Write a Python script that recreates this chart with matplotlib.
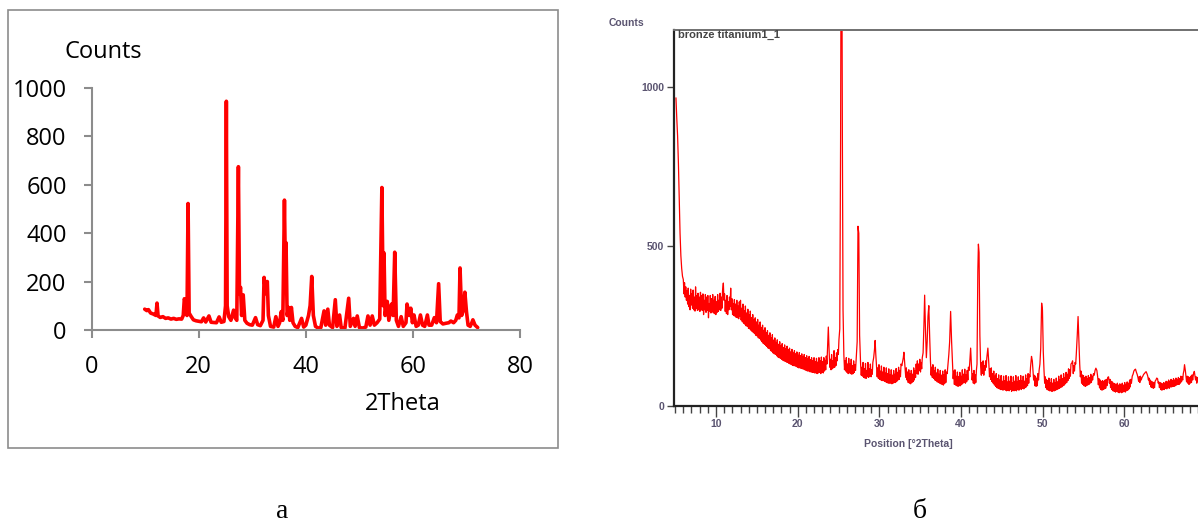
import matplotlib
matplotlib.use("Agg")
import matplotlib.pyplot as plt
from matplotlib.patches import Rectangle
from matplotlib.ticker import MultipleLocator

# ---------------- data: panel "а" ----------------
pattern_a = [
    (9.9, 86), (10.3, 80), (10.6, 84), (11.0, 70), (11.5, 66), (12.0, 60), (12.2, 111), (12.4, 58),
    (12.8, 52), (13.3, 55), (13.8, 48), (14.3, 50), (14.8, 45), (15.3, 48), (15.8, 44), (16.3, 46),
    (16.8, 45), (17.1, 60), (17.3, 129), (17.6, 110), (17.8, 60), (18.0, 522), (18.2, 70), (18.6, 55),
    (19.0, 42), (19.5, 38), (20.0, 36), (20.5, 34), (20.9, 50), (21.3, 33), (21.9, 58), (22.3, 32),
    (22.8, 31), (23.3, 30), (23.8, 54), (24.2, 32), (24.7, 35), (25.0, 100), (25.15, 944), (25.3, 100),
    (25.6, 55), (26.0, 40), (26.5, 82), (26.8, 50), (27.1, 40), (27.4, 674), (27.6, 150), (27.8, 176),
    (28.0, 60), (28.3, 145), (28.6, 40), (29.0, 28), (29.5, 22), (30.0, 20), (30.6, 51), (31.0, 22),
    (31.5, 18), (32.0, 40), (32.2, 217), (32.5, 150), (32.8, 200), (33.0, 60), (33.4, 15), (34.0, 12),
    (34.4, 55), (34.8, 15), (35.1, 30), (35.4, 76), (35.7, 40), (36.0, 536), (36.2, 200), (36.3, 360),
    (36.5, 60), (36.8, 93), (37.0, 40), (37.3, 93), (37.6, 30), (38.0, 15), (38.5, 10), (39.2, 48),
    (39.6, 12), (40.0, 20), (40.5, 60), (40.8, 101), (41.1, 221), (41.4, 60), (41.8, 15), (42.3, 8),
    (42.8, 10), (43.4, 79), (43.7, 20), (44.1, 86), (44.4, 20), (45.0, 10), (45.5, 125), (45.8, 15),
    (46.3, 62), (46.6, 10), (47.3, 8), (48.0, 131), (48.3, 15), (48.9, 48), (49.2, 15), (49.6, 58),
    (50.0, 10), (50.6, 8), (51.2, 12), (51.6, 58), (52.0, 20), (52.4, 58), (52.8, 20), (53.3, 30),
    (53.8, 45), (54.2, 588), (54.45, 100), (54.6, 318), (54.8, 60), (55.2, 118), (55.5, 40), (56.0, 107),
    (56.3, 60), (56.6, 321), (56.9, 40), (57.3, 15), (57.8, 55), (58.2, 15), (58.7, 30), (58.9, 107),
    (59.3, 60), (59.6, 90), (59.9, 30), (60.2, 62), (60.6, 15), (61.0, 20), (61.4, 62), (61.8, 20),
    (62.2, 15), (62.7, 62), (63.0, 20), (63.5, 20), (64.0, 51), (64.4, 30), (64.8, 191), (65.1, 35),
    (65.6, 25), (66.2, 28), (66.7, 30), (67.1, 37), (67.6, 30), (68.0, 40), (68.3, 62), (68.6, 50),
    (68.8, 256), (69.1, 60), (69.4, 80), (69.7, 156), (70.0, 76), (70.3, 20), (70.7, 15), (71.0, 30),
    (71.2, 42), (71.6, 20), (72.1, 10),
]
xticks_a = [0, 20, 40, 60, 80]
yticks_a = [0, 200, 400, 600, 800, 1000]

# ---------------- data: panel "б" ----------------
pattern_b = [
    (5.10, 964), (5.20, 900), (5.30, 845), (5.40, 760), (5.50, 650), (5.60, 540), (5.70, 470), (5.80, 430),
    (5.90, 405), (6.00, 395), (6.08, 350), (6.15, 385), (6.23, 340), (6.30, 372), (6.38, 330), (6.45, 360),
    (6.53, 318), (6.60, 368), (6.68, 310), (6.75, 345), (6.83, 300), (6.90, 365), (6.98, 315), (7.05, 350),
    (7.13, 305), (7.20, 362), (7.28, 300), (7.35, 340), (7.43, 296), (7.50, 372), (7.58, 305), (7.65, 345),
    (7.73, 298), (7.80, 352), (7.88, 300), (7.95, 340), (8.03, 295), (8.10, 355), (8.18, 300), (8.25, 345),
    (8.33, 298), (8.40, 350), (8.48, 285), (8.55, 330), (8.63, 300), (8.70, 348), (8.78, 292), (8.85, 340),
    (8.93, 298), (9.00, 345), (9.08, 275), (9.15, 320), (9.23, 296), (9.30, 345), (9.38, 290), (9.45, 335),
    (9.53, 294), (9.60, 348), (9.68, 290), (9.75, 330), (9.83, 288), (9.90, 342), (9.98, 285), (10.05, 325),
    (10.13, 292), (10.20, 348), (10.28, 295), (10.35, 330), (10.43, 300), (10.50, 352), (10.58, 298), (10.65, 340),
    (10.73, 305), (10.80, 360), (10.90, 384), (10.98, 330), (11.05, 350), (11.13, 295), (11.20, 330), (11.28, 288),
    (11.35, 345), (11.43, 285), (11.50, 325), (11.58, 300), (11.65, 340), (11.72, 310), (11.80, 368), (11.88, 300),
    (11.95, 335), (12.03, 285), (12.10, 320), (12.18, 282), (12.25, 332), (12.33, 280), (12.40, 318), (12.48, 276),
    (12.55, 330), (12.63, 275), (12.70, 312), (12.78, 272), (12.85, 325), (12.93, 280), (13.00, 330), (13.08, 268),
    (13.15, 305), (13.23, 262), (13.30, 318), (13.38, 258), (13.45, 298), (13.53, 255), (13.60, 312), (13.68, 250),
    (13.75, 290), (13.83, 248), (13.90, 302), (13.98, 242), (14.05, 285), (14.13, 240), (14.20, 296), (14.28, 236),
    (14.35, 275), (14.43, 232), (14.50, 285), (14.58, 228), (14.65, 268), (14.73, 225), (14.80, 275), (14.88, 220),
    (14.95, 262), (15.03, 218), (15.10, 270), (15.18, 212), (15.25, 252), (15.33, 210), (15.40, 262), (15.48, 205),
    (15.55, 245), (15.63, 200), (15.70, 252), (15.78, 195), (15.85, 236), (15.93, 192), (16.00, 244), (16.08, 188),
    (16.15, 228), (16.23, 185), (16.30, 235), (16.38, 180), (16.45, 220), (16.53, 178), (16.60, 228), (16.68, 172),
    (16.75, 212), (16.83, 170), (16.90, 222), (16.98, 165), (17.05, 205), (17.13, 162), (17.20, 212), (17.28, 160),
    (17.35, 198), (17.43, 156), (17.50, 206), (17.58, 152), (17.65, 192), (17.73, 150), (17.80, 200), (17.88, 148),
    (17.95, 188), (18.03, 145), (18.10, 194), (18.18, 142), (18.25, 182), (18.33, 140), (18.40, 190), (18.48, 138),
    (18.55, 178), (18.63, 136), (18.70, 186), (18.78, 135), (18.85, 175), (18.93, 132), (19.00, 180), (19.08, 130),
    (19.15, 168), (19.23, 128), (19.30, 176), (19.38, 126), (19.45, 165), (19.53, 125), (19.60, 172), (19.68, 124),
    (19.75, 162), (19.83, 122), (19.90, 168), (19.98, 120), (20.05, 158), (20.13, 118), (20.20, 166), (20.28, 118),
    (20.35, 156), (20.43, 116), (20.50, 162), (20.58, 115), (20.65, 152), (20.73, 114), (20.80, 160), (20.88, 112),
    (20.95, 150), (21.03, 110), (21.10, 156), (21.18, 108), (21.25, 146), (21.33, 108), (21.40, 154), (21.48, 106),
    (21.55, 144), (21.63, 105), (21.70, 150), (21.78, 104), (21.85, 140), (21.93, 104), (22.00, 150), (22.08, 102),
    (22.15, 138), (22.23, 102), (22.30, 148), (22.38, 100), (22.45, 136), (22.53, 102), (22.60, 150), (22.68, 104),
    (22.75, 140), (22.83, 100), (22.90, 152), (22.98, 104), (23.05, 138), (23.13, 102), (23.20, 150), (23.28, 108),
    (23.35, 142), (23.43, 112), (23.50, 155), (23.58, 130), (23.65, 175), (23.75, 246), (23.85, 170), (23.93, 120),
    (24.00, 145), (24.08, 112), (24.15, 160), (24.23, 115), (24.30, 140), (24.38, 118), (24.45, 172), (24.53, 120),
    (24.60, 150), (24.68, 125), (24.75, 165), (24.83, 140), (24.90, 175), (24.98, 160), (25.05, 206), (25.15, 240),
    (25.25, 820), (25.32, 1500), (25.40, 1500), (25.47, 840), (25.55, 300), (25.65, 160), (25.73, 112), (25.80, 140),
    (25.88, 108), (25.95, 150), (26.03, 104), (26.10, 130), (26.18, 100), (26.25, 148), (26.33, 102), (26.40, 130),
    (26.48, 100), (26.55, 145), (26.63, 98), (26.70, 125), (26.78, 100), (26.85, 140), (26.93, 104), (27.00, 128),
    (27.08, 110), (27.15, 140), (27.28, 200), (27.38, 562), (27.48, 540), (27.58, 220), (27.70, 130), (27.78, 95),
    (27.85, 120), (27.93, 92), (28.00, 135), (28.08, 88), (28.15, 115), (28.23, 86), (28.30, 132), (28.38, 85),
    (28.45, 110), (28.53, 90), (28.60, 135), (28.68, 88), (28.75, 115), (28.83, 92), (28.90, 130), (28.98, 90),
    (29.05, 112), (29.13, 98), (29.20, 135), (29.30, 150), (29.40, 175), (29.48, 204), (29.56, 160), (29.65, 120),
    (29.73, 90), (29.80, 118), (29.88, 85), (29.95, 128), (30.03, 82), (30.10, 108), (30.18, 80), (30.25, 124),
    (30.33, 78), (30.40, 105), (30.48, 78), (30.55, 120), (30.63, 76), (30.70, 102), (30.78, 74), (30.85, 118),
    (30.93, 72), (31.00, 100), (31.08, 70), (31.15, 115), (31.23, 70), (31.30, 96), (31.38, 70), (31.45, 112),
    (31.53, 68), (31.60, 95), (31.68, 70), (31.75, 110), (31.83, 72), (31.90, 98), (31.98, 72), (32.05, 116),
    (32.13, 76), (32.20, 104), (32.28, 80), (32.35, 120), (32.43, 82), (32.50, 110), (32.58, 90), (32.65, 130),
    (32.75, 125), (32.85, 140), (32.93, 150), (33.00, 167), (33.08, 140), (33.15, 115), (33.23, 88), (33.30, 118),
    (33.38, 80), (33.45, 105), (33.53, 72), (33.60, 112), (33.68, 70), (33.75, 100), (33.83, 68), (33.90, 110),
    (33.98, 72), (34.05, 98), (34.13, 75), (34.20, 118), (34.28, 80), (34.35, 110), (34.43, 88), (34.50, 130),
    (34.58, 100), (34.65, 140), (34.73, 98), (34.80, 130), (34.88, 110), (34.95, 145), (35.03, 105), (35.10, 135),
    (35.18, 115), (35.25, 150), (35.35, 165), (35.45, 250), (35.54, 346), (35.64, 240), (35.75, 150), (35.85, 200),
    (35.95, 280), (36.05, 313), (36.15, 220), (36.25, 140), (36.33, 95), (36.40, 120), (36.48, 88), (36.55, 128),
    (36.63, 85), (36.70, 110), (36.78, 80), (36.85, 120), (36.93, 78), (37.00, 102), (37.08, 74), (37.15, 114),
    (37.23, 72), (37.30, 98), (37.38, 70), (37.45, 110), (37.53, 68), (37.60, 95), (37.68, 66), (37.75, 108),
    (37.83, 64), (37.90, 96), (37.98, 68), (38.05, 112), (38.13, 72), (38.20, 105), (38.30, 100), (38.40, 130),
    (38.50, 160), (38.60, 200), (38.72, 295), (38.84, 200), (38.95, 130), (39.03, 84), (39.10, 108), (39.18, 66),
    (39.25, 112), (39.33, 64), (39.40, 92), (39.48, 62), (39.55, 105), (39.63, 60), (39.70, 90), (39.78, 62),
    (39.85, 104), (39.93, 62), (40.00, 92), (40.08, 66), (40.15, 112), (40.23, 70), (40.30, 98), (40.38, 72),
    (40.45, 114), (40.53, 70), (40.60, 96), (40.68, 74), (40.75, 110), (40.83, 80), (40.90, 120), (40.98, 110),
    (41.05, 130), (41.17, 180), (41.28, 120), (41.35, 80), (41.43, 100), (41.50, 70), (41.58, 110), (41.65, 68),
    (41.73, 96), (41.80, 72), (41.88, 112), (41.95, 130), (42.05, 420), (42.12, 506), (42.20, 480), (42.30, 220),
    (42.40, 120), (42.48, 95), (42.55, 135), (42.63, 100), (42.70, 140), (42.78, 95), (42.85, 125), (42.93, 110),
    (43.00, 140), (43.08, 120), (43.15, 150), (43.28, 180), (43.40, 130), (43.48, 90), (43.55, 115), (43.63, 82),
    (43.70, 118), (43.78, 75), (43.85, 100), (43.93, 70), (44.00, 108), (44.08, 64), (44.15, 92), (44.23, 60),
    (44.30, 100), (44.38, 56), (44.45, 84), (44.53, 54), (44.60, 96), (44.68, 52), (44.75, 80), (44.83, 50),
    (44.90, 94), (44.98, 50), (45.05, 76), (45.13, 48), (45.20, 92), (45.28, 50), (45.35, 78), (45.43, 48),
    (45.50, 94), (45.58, 46), (45.65, 74), (45.73, 48), (45.80, 90), (45.88, 46), (45.95, 76), (46.03, 50),
    (46.10, 92), (46.18, 44), (46.25, 72), (46.33, 48), (46.40, 90), (46.48, 46), (46.55, 76), (46.63, 48),
    (46.70, 94), (46.78, 46), (46.85, 74), (46.93, 50), (47.00, 90), (47.08, 48), (47.15, 78), (47.23, 52),
    (47.30, 94), (47.38, 50), (47.45, 78), (47.53, 54), (47.60, 92), (47.68, 52), (47.75, 76), (47.83, 56),
    (47.90, 96), (47.98, 58), (48.05, 84), (48.13, 62), (48.20, 100), (48.28, 70), (48.35, 96), (48.43, 90),
    (48.50, 120), (48.62, 154), (48.72, 140), (48.80, 110), (48.88, 80), (48.95, 95), (49.03, 62), (49.10, 92),
    (49.18, 60), (49.25, 86), (49.33, 62), (49.40, 100), (49.48, 80), (49.55, 110), (49.65, 130), (49.75, 180),
    (49.86, 321), (49.96, 300), (50.06, 170), (50.15, 110), (50.23, 70), (50.30, 90), (50.38, 56), (50.45, 82),
    (50.53, 50), (50.60, 78), (50.68, 48), (50.75, 86), (50.83, 46), (50.90, 72), (50.98, 46), (51.05, 84),
    (51.13, 44), (51.20, 70), (51.28, 46), (51.35, 82), (51.43, 46), (51.50, 72), (51.58, 48), (51.65, 86),
    (51.73, 50), (51.80, 74), (51.88, 52), (51.95, 92), (52.03, 54), (52.10, 80), (52.18, 56), (52.25, 96),
    (52.33, 58), (52.40, 84), (52.48, 62), (52.55, 100), (52.63, 64), (52.70, 88), (52.78, 68), (52.85, 104),
    (52.93, 72), (53.00, 98), (53.08, 78), (53.15, 115), (53.23, 85), (53.30, 112), (53.38, 92), (53.45, 130),
    (53.55, 133), (53.65, 140), (53.73, 100), (53.80, 125), (53.88, 108), (53.95, 135), (54.03, 130), (54.10, 160),
    (54.22, 220), (54.32, 279), (54.42, 200), (54.52, 130), (54.60, 90), (54.68, 108), (54.75, 70), (54.83, 96),
    (54.90, 66), (54.98, 94), (55.05, 62), (55.13, 88), (55.20, 60), (55.28, 92), (55.35, 62), (55.43, 84),
    (55.50, 64), (55.58, 94), (55.65, 66), (55.73, 88), (55.80, 70), (55.88, 98), (55.95, 72), (56.03, 92),
    (56.10, 80), (56.20, 100), (56.30, 95), (56.40, 110), (56.50, 117), (56.62, 110), (56.72, 90), (56.80, 65),
    (56.88, 84), (56.95, 55), (57.03, 80), (57.10, 50), (57.18, 76), (57.25, 48), (57.33, 78), (57.40, 50),
    (57.48, 74), (57.55, 52), (57.63, 80), (57.70, 54), (57.78, 82), (57.85, 62), (57.95, 88), (58.05, 90),
    (58.15, 70), (58.23, 82), (58.30, 56), (58.38, 76), (58.45, 50), (58.53, 74), (58.60, 46), (58.68, 70),
    (58.75, 44), (58.83, 68), (58.90, 42), (58.98, 66), (59.05, 44), (59.13, 70), (59.20, 42), (59.28, 64),
    (59.35, 40), (59.43, 68), (59.50, 42), (59.58, 64), (59.65, 40), (59.73, 70), (59.80, 42), (59.88, 64),
    (59.95, 44), (60.03, 72), (60.10, 42), (60.18, 66), (60.25, 46), (60.33, 74), (60.40, 48), (60.48, 70),
    (60.55, 52), (60.63, 80), (60.70, 58), (60.78, 82), (60.85, 70), (60.95, 92), (61.05, 98), (61.15, 108),
    (61.25, 112), (61.35, 114), (61.45, 105), (61.55, 98), (61.65, 88), (61.73, 76), (61.80, 90), (61.88, 72),
    (61.95, 92), (62.05, 80), (62.15, 88), (62.25, 92), (62.35, 98), (62.45, 100), (62.55, 104), (62.65, 106),
    (62.75, 100), (62.85, 92), (62.93, 80), (63.00, 86), (63.08, 66), (63.15, 80), (63.23, 58), (63.30, 76),
    (63.38, 56), (63.45, 74), (63.53, 54), (63.60, 72), (63.68, 56), (63.75, 76), (63.85, 80), (63.95, 86),
    (64.05, 84), (64.13, 70), (64.20, 74), (64.28, 56), (64.35, 72), (64.43, 50), (64.50, 70), (64.58, 48),
    (64.65, 68), (64.73, 50), (64.80, 72), (64.88, 50), (64.95, 70), (65.03, 54), (65.10, 76), (65.18, 52),
    (65.25, 74), (65.33, 56), (65.40, 80), (65.48, 54), (65.55, 76), (65.63, 58), (65.70, 82), (65.78, 58),
    (65.85, 78), (65.93, 60), (66.00, 84), (66.08, 60), (66.15, 80), (66.23, 62), (66.30, 86), (66.38, 64),
    (66.45, 82), (66.53, 66), (66.60, 88), (66.68, 66), (66.75, 84), (66.83, 70), (66.90, 92), (66.98, 74),
    (67.05, 90), (67.13, 80), (67.20, 100), (67.28, 110), (67.35, 128), (67.45, 110), (67.53, 90), (67.60, 74),
    (67.68, 92), (67.75, 70), (67.83, 90), (67.90, 66), (67.98, 88), (68.05, 70), (68.13, 92), (68.20, 72),
    (68.28, 96), (68.35, 80), (68.45, 100), (68.55, 107), (68.62, 95), (68.70, 80), (68.78, 90), (68.85, 70),
    (68.93, 88), (69.00, 76),
]
xticks_b = [10, 20, 30, 40, 50, 60]
yticks_b = [0, 500, 1000]

W, H = 1198, 522
fig = plt.figure(figsize=(W / 100, H / 100), dpi=100)
fig.patch.set_facecolor("white")


def fx(px):
    return px / W


def fy(py):
    return 1 - py / H


# ---------------- panel а ----------------
fig.patches.append(Rectangle((fx(7.5), fy(448)), fx(558) - fx(7.5), fy(9.5) - fy(448),
                             transform=fig.transFigure, fill=False, edgecolor="#8c8c8c",
                             linewidth=1.2, zorder=0))
grey = "#8c8c8c"
axa = fig.add_axes([fx(91.7), fy(330), fx(520) - fx(91.7), fy(87.7) - fy(330)])
xa, ya = zip(*pattern_a)
axa.plot(xa, ya, color="#ff0000", lw=2.6, solid_joinstyle="round", solid_capstyle="round",
         clip_on=False)
axa.set_xlim(0, 80)
axa.set_ylim(0, 1000)
axa.set_xticks(xticks_a)
axa.set_yticks(yticks_a)
for s in ("top", "right"):
    axa.spines[s].set_visible(False)
for s in ("left", "bottom"):
    axa.spines[s].set_color(grey)
    axa.spines[s].set_linewidth(1.5)
axa.patch.set_alpha(0)
lab_font = dict(family=["Open Sans", "DejaVu Sans"], size=17)
axa.tick_params(axis="both", direction="out", length=6, width=1.5, color=grey, labelsize=17)
axa.tick_params(axis="x", pad=12)
axa.tick_params(axis="y", pad=12)
for t in axa.get_xticklabels() + axa.get_yticklabels():
    t.set_fontfamily(["Open Sans", "DejaVu Sans"])
fig.text(fx(65), fy(52), "Counts", ha="left", va="center", **lab_font)
fig.text(fx(365), fy(404), "2Theta", ha="left", va="center", **lab_font)

# ---------------- panel б ----------------
tcol = "#5a5470"
axb = fig.add_axes([fx(674), fy(405.5), 1 - fx(674), fy(29.5) - fy(405.5)])
xb, yb = zip(*pattern_b)
axb.plot(xb, yb, color="#ff0000", lw=0.9)
axb.set_xlim(4.86, 69.0)
axb.set_ylim(0, 1179)
axb.set_xticks(xticks_b)
axb.xaxis.set_minor_locator(MultipleLocator(1))
axb.set_yticks(yticks_b)
axb.spines["right"].set_visible(False)
axb.spines["left"].set_linewidth(1.6)
axb.spines["left"].set_color("#222222")
axb.spines["bottom"].set_linewidth(1.6)
axb.spines["bottom"].set_color("#222222")
axb.spines["top"].set_linewidth(1.4)
axb.spines["top"].set_color("#707070")
axb.tick_params(axis="x", which="major", direction="out", length=8, width=1.0,
                color="#444444", labelsize=7.5, labelcolor=tcol, pad=2)
axb.tick_params(axis="x", which="minor", direction="out", length=5, width=1.0, color="#444444")
axb.tick_params(axis="y", direction="out", length=5, width=1.0, color="#444444",
                labelsize=7.5, labelcolor=tcol, pad=2)
for t in axb.get_xticklabels() + axb.get_yticklabels():
    t.set_fontfamily(["Liberation Sans", "DejaVu Sans"])
    t.set_fontweight("bold")
small = dict(family=["Liberation Sans", "DejaVu Sans"], size=7.5, color=tcol, fontweight="bold")
fig.text(fx(609), fy(23), "Counts", ha="left", va="center", **small)
fig.text(fx(908), fy(444), "Position [°2Theta]", ha="center", va="center", **small)
fig.text(fx(678), fy(35), "bronze titanium1_1", ha="left", va="center",
         family=["Liberation Sans", "DejaVu Sans"], size=8, color="#444444", fontweight="bold")

# ---------------- captions ----------------
cap = dict(family=["Liberation Serif", "DejaVu Serif"], size=20, color="black")
fig.text(fx(282), fy(511), "а", ha="center", va="center", **cap)
fig.text(fx(920), fy(511), "б", ha="center", va="center", **cap)

fig.savefig("out.png", dpi=100, facecolor="white")
